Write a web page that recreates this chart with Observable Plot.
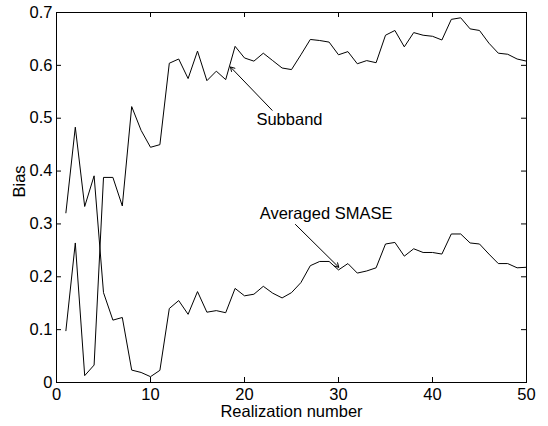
<!DOCTYPE html>
<html>
<head>
<meta charset="utf-8">
<script src="https://cdn.jsdelivr.net/npm/d3@7"></script>
<script src="https://cdn.jsdelivr.net/npm/@observablehq/plot@0.6"></script>
<style>
  html, body { margin: 0; padding: 0; background: #fff; }
  #chart { width: 548px; height: 426px; }
</style>
</head>
<body>
<div id="chart"></div>
<script>
const realization = [1,2,3,4,5,6,7,8,9,10,11,12,13,14,15,16,17,18,19,20,21,22,23,24,25,26,27,28,29,30,31,32,33,34,35,36,37,38,39,40,41,42,43,44,45,46,47,48,49,50];

const subband = [0.098,0.264,0.013,0.033,0.388,0.388,0.334,0.522,0.477,0.445,
  0.450,0.604,0.612,0.575,0.627,0.571,0.589,0.573,0.636,0.614,
  0.608,0.623,0.609,0.595,0.592,0.620,0.649,0.647,0.644,0.620,
  0.626,0.603,0.609,0.605,0.657,0.666,0.635,0.662,0.657,0.655,
  0.648,0.687,0.690,0.669,0.666,0.642,0.623,0.621,0.612,0.608];

const averagedSmase = [0.321,0.483,0.333,0.391,0.170,0.118,0.123,0.0235,0.019,0.011,
  0.023,0.140,0.155,0.129,0.172,0.133,0.136,0.132,0.178,0.164,
  0.167,0.182,0.169,0.160,0.170,0.189,0.221,0.229,0.229,0.213,
  0.225,0.207,0.211,0.217,0.262,0.265,0.239,0.253,0.246,0.246,
  0.243,0.281,0.281,0.264,0.262,0.243,0.225,0.225,0.217,0.218];

const xTicks = [0,10,20,30,40,50];
const yTicks = [0,0.1,0.2,0.3,0.4,0.5,0.6,0.7];

const labels = ["Subband","Averaged SMASE"];
const labelX = [21.27, 21.62];
const labelY = [0.488, 0.309];
const arrowX1 = [22.94, 25.42];
const arrowY1 = [0.515, 0.299];
const arrowX2 = [18.5, 30.03];
const arrowY2 = [0.597, 0.218];

const lineData = [
  ...realization.map((r,i)=>({series:"Subband", x:r, y:subband[i]})),
  ...realization.map((r,i)=>({series:"Averaged SMASE", x:r, y:averagedSmase[i]}))
];
const notes = labels.map((t,i)=>({t, x:labelX[i], y:labelY[i], x1:arrowX1[i], y1:arrowY1[i], x2:arrowX2[i], y2:arrowY2[i]}));

const FONT = "Liberation Sans, Arial, Helvetica, sans-serif";
const FS = 16.5;
const W = 548, H = 426, ML = 56, MR = 22, MT = 12, MB = 44;
const innerW = W - ML - MR, innerH = H - MT - MB;
const TK = 5;

const chart = Plot.plot({
  width: W, height: H,
  marginLeft: ML, marginRight: MR, marginTop: MT, marginBottom: MB,
  style: {fontFamily: FONT, fontSize: FS + "px", background: "#fff", color: "#000"},
  x: {domain: [0, 50]},
  y: {domain: [0, 0.7]},
  marks: [
    Plot.axisX(xTicks, {anchor: "bottom", tickSize: 0, tickPadding: 6, label: null, fontSize: FS, tickFormat: d => String(d)}),
    Plot.axisY(yTicks, {anchor: "left", tickSize: 0, tickPadding: 4, label: null, fontSize: FS, tickFormat: d => String(d)}),
    Plot.tickX(xTicks, {x: d => d, insetTop: innerH - TK, stroke: "#000"}),
    Plot.tickX(xTicks, {x: d => d, insetBottom: innerH - TK, stroke: "#000"}),
    Plot.tickY(yTicks, {y: d => d, insetRight: innerW - TK, stroke: "#000"}),
    Plot.tickY(yTicks, {y: d => d, insetLeft: innerW - TK, stroke: "#000"}),
    Plot.line(lineData, {x: "x", y: "y", z: "series", stroke: "#000", strokeWidth: 1}),
    Plot.arrow(notes, {x1: "x1", y1: "y1", x2: "x2", y2: "y2", stroke: "#000", strokeWidth: 1, headLength: 7}),
    Plot.text(notes, {x: "x", y: "y", text: "t", textAnchor: "start", lineAnchor: "bottom", fontSize: FS, fill: "#000"}),
    Plot.text(["Realization number"], {frameAnchor: "bottom", dy: 34, lineAnchor: "bottom", fontSize: FS, fill: "#000"}),
    Plot.text(["Bias"], {frameAnchor: "left", dx: -37, rotate: -90, lineAnchor: "middle", fontSize: FS, fill: "#000"}),
    Plot.frame({stroke: "#000", strokeWidth: 1})
  ]
});
document.getElementById("chart").appendChild(chart);
</script>
</body>
</html>
